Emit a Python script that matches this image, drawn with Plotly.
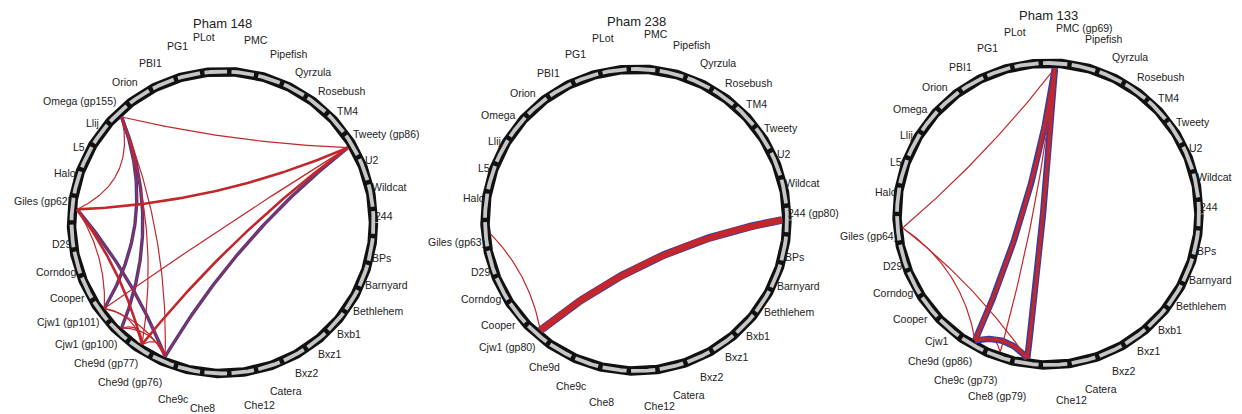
import numpy as np
import plotly.graph_objects as go

# ---------------- data ----------------
PANEL_TITLES = ["Pham 148", "Pham 238", "Pham 133"]

LABELS_148 = ["244", "BPs", "Barnyard", "Bethlehem", "Bxb1", "Bxz1", "Bxz2", "Catera",
              "Che12", "Che8", "Che9c", "Che9d (gp76)", "Che9d (gp77)", "Cjw1 (gp100)",
              "Cjw1 (gp101)", "Cooper", "Corndog", "D29", "Giles (gp62)", "Halo", "L5",
              "Llij", "Omega (gp155)", "Orion", "PBI1", "PG1", "PLot", "PMC", "Pipefish",
              "Qyrzula", "Rosebush", "TM4", "Tweety (gp86)", "U2", "Wildcat"]

LABELS_238 = ["244 (gp80)", "BPs", "Barnyard", "Bethlehem", "Bxb1", "Bxz1", "Bxz2", "Catera",
              "Che12", "Che8", "Che9c", "Che9d", "Cjw1 (gp80)", "Cooper", "Corndog", "D29",
              "Giles (gp63)", "Halo", "L5", "Llij", "Omega", "Orion", "PBI1", "PG1", "PLot",
              "PMC", "Pipefish", "Qyrzula", "Rosebush", "TM4", "Tweety", "U2", "Wildcat"]

LABELS_133 = ["244", "BPs", "Barnyard", "Bethlehem", "Bxb1", "Bxz1", "Bxz2", "Catera",
              "Che12", "Che8 (gp79)", "Che9c (gp73)", "Che9d (gp86)", "Cjw1", "Cooper",
              "Corndog", "D29", "Giles (gp64)", "Halo", "L5", "Llij", "Omega", "Orion", "PBI1",
              "PG1", "PLot", "PMC (gp69)", "Pipefish", "Qyrzula", "Rosebush", "TM4", "Tweety",
              "U2", "Wildcat"]

# links: (gene A, gene B, similarity class)
LINKS_148 = [
    ("Omega (gp155)", "Tweety (gp86)", 1),
    ("Omega (gp155)", "Giles (gp62)", 1),
    ("Omega (gp155)", "Cjw1 (gp101)", 3),
    ("Omega (gp155)", "Cjw1 (gp100)", 3),
    ("Omega (gp155)", "Che9d (gp77)", 1),
    ("Omega (gp155)", "Che9d (gp76)", 1),
    ("Tweety (gp86)", "Giles (gp62)", 2),
    ("Tweety (gp86)", "Cjw1 (gp101)", 1),
    ("Tweety (gp86)", "Che9d (gp77)", 2),
    ("Tweety (gp86)", "Che9d (gp76)", 3),
    ("Giles (gp62)", "Cjw1 (gp101)", 1),
    ("Giles (gp62)", "Che9d (gp77)", 2),
    ("Giles (gp62)", "Che9d (gp76)", 3),
    ("Cjw1 (gp101)", "Che9d (gp77)", 1),
    ("Cjw1 (gp101)", "Che9d (gp76)", 1),
    ("Cjw1 (gp100)", "Che9d (gp77)", 1),
    ("Cjw1 (gp100)", "Che9d (gp76)", 1),
    ("Che9d (gp77)", "Che9d (gp76)", 1),
]

LINKS_238 = [
    ("Cjw1 (gp80)", "244 (gp80)", 5),
    ("Giles (gp63)", "Cjw1 (gp80)", 1),
]

LINKS_133 = [
    ("PMC (gp69)", "Che9d (gp86)", 4),
    ("PMC (gp69)", "Che8 (gp79)", 4),
    ("Che9d (gp86)", "Che8 (gp79)", 4),
    ("PMC (gp69)", "Che9c (gp73)", 1),
    ("PMC (gp69)", "Giles (gp64)", 1),
    ("Giles (gp64)", "Che9d (gp86)", 1),
    ("Giles (gp64)", "Che8 (gp79)", 1),
    ("Che9c (gp73)", "Che9d (gp86)", 1),
]

# ---------------- layout / style ----------------
W, H = 1242, 414
CENTERS = [(222.5, 222.5), (636.0, 220.0), (1048.0, 214.0)]
R_RING = 151.0
R_LINK = 146.0
RED = "#c3262b"
BLUE = "#3a3d9c"
GRAY = "#c6c6c6"
FONT = "Liberation Sans, Arial, sans-serif"
STYLE = {  # class -> (blue underlay width, red width)
    1: (0, 1.2),
    2: (0, 2.6),
    3: (3.4, 1.1),
    4: (6.4, 3.4),
    5: (7.8, 6.4),
}
# extra bending of a few curves (fraction of the way toward the centre)
BEND = {
    ("Omega (gp155)", "Cjw1 (gp101)"): 0.42,
    ("Omega (gp155)", "Cjw1 (gp100)"): 0.42,
    ("Omega (gp155)", "Che9d (gp77)"): 0.32,
    ("Omega (gp155)", "Che9d (gp76)"): 0.32,
    ("Omega (gp155)", "Giles (gp62)"): 0.3,
    ("Giles (gp64)", "Che9d (gp86)"): 0.22,
}

panels = [
    (PANEL_TITLES[0], LABELS_148, LINKS_148),
    (PANEL_TITLES[1], LABELS_238, LINKS_238),
    (PANEL_TITLES[2], LABELS_133, LINKS_133),
]


def pos(cx, cy, r, th):
    t = np.radians(th)
    return cx + r * np.cos(t), cy - r * np.sin(t)


def chord(cx, cy, a1, a2, k=None, n=80):
    p0 = np.array(pos(cx, cy, R_LINK, a1))
    p2 = np.array(pos(cx, cy, R_LINK, a2))
    d = abs((a1 - a2 + 180) % 360 - 180)
    if k is None:
        k = 0.12 + 0.45 * np.clip((d - 105) / 25.0, 0, 1)
    m = (p0 + p2) / 2
    c = m + k * (np.array([cx, cy]) - m)
    t = np.linspace(0, 1, n)[:, None]
    b = (1 - t) ** 2 * p0 + 2 * (1 - t) * t * c + t ** 2 * p2
    return list(b[:, 0]) + [None], list(b[:, 1]) + [None]


fig = go.Figure()
annotations = []

for (title, labels, links), (cx, cy) in zip(panels, CENTERS):
    n = len(labels)
    ang = {lab: -360.0 * i / n for i, lab in enumerate(labels)}

    # ring
    th = np.linspace(0, 360, 721)
    rx, ry = pos(cx, cy, R_RING, th)
    fig.add_trace(go.Scatter(x=rx, y=ry, mode="lines", line=dict(color="#111111", width=9.5),
                             hoverinfo="skip", showlegend=False))
    half = 180.0 / n
    gap = 0.85
    gx, gy = [], []
    for lab in labels:
        a = ang[lab]
        seg = np.linspace(a - half + gap, a + half - gap, 20)
        x, y = pos(cx, cy, R_RING, seg)
        gx += list(x) + [None]
        gy += list(y) + [None]
    fig.add_trace(go.Scatter(x=gx, y=gy, mode="lines", line=dict(color=GRAY, width=3.8),
                             hoverinfo="skip", showlegend=False))

    # links
    for layer in ("blue", "red"):
        for cls in sorted(STYLE):
            bw, rw = STYLE[cls]
            w = bw if layer == "blue" else rw
            if w == 0:
                continue
            xs, ys = [], []
            for a, b, c in links:
                if c != cls:
                    continue
                x, y = chord(cx, cy, ang[a], ang[b], BEND.get((a, b)))
                xs += x
                ys += y
            if xs:
                fig.add_trace(go.Scatter(x=xs, y=ys, mode="lines",
                                         line=dict(color=BLUE if layer == "blue" else RED, width=w),
                                         hoverinfo="skip", showlegend=False))

    # labels
    for lab in labels:
        a = np.radians(ang[lab])
        co, s = np.cos(a), np.sin(a)
        x = cx + 151.0 * co
        y = cy - (158.0 + 21.0 * abs(s) ** 12) * s
        annotations.append(dict(
            x=x, y=y, text=lab, showarrow=False, borderpad=0,
            xanchor="left" if co > 0 else "right",
            yanchor="bottom" if s >= -1e-9 else "top",
            font=dict(family=FONT, size=10.5, color="#222222"),
        ))

    annotations.append(dict(x=cx, y=cy - 199, text=title, showarrow=False, borderpad=0,
                            xanchor="center", yanchor="middle",
                            font=dict(family=FONT, size=13, color="#222222")))

fig.update_layout(
    width=W, height=H, autosize=False,
    margin=dict(l=0, r=0, t=0, b=0),
    paper_bgcolor="white", plot_bgcolor="white",
    xaxis=dict(range=[0, W], visible=False, fixedrange=True),
    yaxis=dict(range=[H, 0], visible=False, fixedrange=True),
    annotations=annotations,
    hovermode=False,
    showlegend=False,
)

fig.write_html("out.html", config={"displayModeBar": False},
               post_script="document.body.style.margin='0';")
